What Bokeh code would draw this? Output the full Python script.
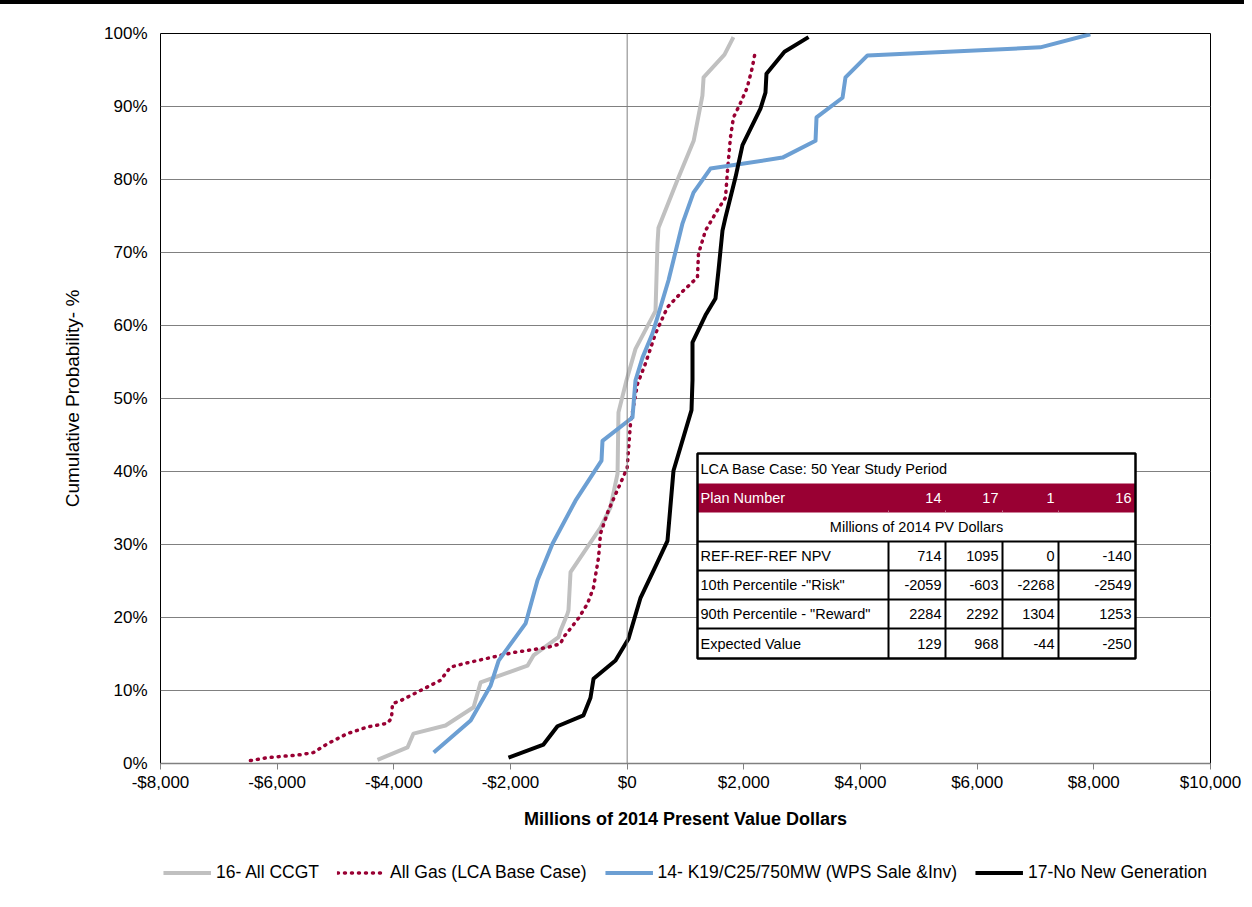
from bokeh.plotting import figure
from bokeh.layouts import column
from bokeh.models import FixedTicker, Span, Legend, LegendItem
from bokeh.core.properties import value
from bokeh.embed import file_html
from bokeh.resources import INLINE

# ---------------- data ----------------
ccgt_x = [-4280, -3766, -3663, -3114, -2633, -2513, -1709, -1606, -1177, -1143, -1023, -1006, -971,
          -457, -286, -165, -149, -11, 143, 486, 520, 537, 860, 1140, 1290, 1310, 1668, 1822]
ccgt_y = [0.5, 2.2, 4.1, 5.2, 7.7, 11.1, 13.4, 14.8, 17.3, 18.2, 20.5, 21.0, 26.2,
          32.3, 35.1, 39.7, 48.1, 52.5, 56.8, 62.0, 71.2, 73.4, 79.9, 85.3, 91.5, 94.0, 97.1, 99.5]

gas_x = [-6458, -6166, -5600, -5378, -5138, -4795, -4452, -4109, -4040, -4023, -3886, -3543, -3200,
         -3029, -2737, -1949, -1366, -1143, -1091, -971, -834, -680, -577, -491, -457, -320, -114, 0,
         57, 177, 314, 486, 691, 914, 1205, 1222, 1342, 1548, 1685, 1720, 1771, 1822, 1938, 2058,
         2144, 2196]
gas_y = [0.4, 0.8, 1.2, 1.5, 2.7, 4.1, 5.0, 5.5, 6.2, 8.2, 8.6, 10.0, 11.4,
         13.2, 13.8, 15.2, 15.9, 16.4, 17.3, 18.5, 19.9, 21.9, 24.1, 28.2, 31.5, 34.7, 38.4, 40.5,
         46.6, 52.0, 54.8, 58.9, 62.5, 64.4, 66.6, 69.8, 73.0, 75.8, 77.5, 81.2, 85.8, 88.5, 90.4, 92.6,
         95.3, 97.5]

k19_x = [-3317, -2683, -2340, -2203, -1740, -1537, -1280, -886, -440, -423, 91, 143, 263, 434, 537,
         709, 949, 1137, 1428, 2663, 3229, 3246, 3692, 3743, 4120, 7083, 7940]
k19_y = [1.5, 5.9, 10.7, 14.1, 19.2, 25.1, 30.1, 36.0, 41.5, 44.2, 47.4, 52.5, 55.6, 58.9, 61.6,
         66.2, 74.0, 78.2, 81.5, 83.0, 85.3, 88.5, 91.2, 94.0, 97.0, 98.1, 99.9]

nonew_x = [-2035, -1435, -1195, -749, -629, -577, -200, 23, 229, 486, 691, 794, 1103, 1120, 1120,
           1342, 1514, 1565, 1634, 1685, 1857, 1977, 2285, 2371, 2388, 2697, 3109]
nonew_y = [0.8, 2.6, 5.1, 6.6, 9.0, 11.6, 14.1, 17.1, 22.7, 27.0, 30.5, 40.1, 48.4, 52.5, 57.7,
           61.4, 63.7, 67.5, 73.0, 74.8, 80.3, 84.7, 89.7, 91.9, 94.5, 97.5, 99.5]

series_names = ["16- All CCGT", "All Gas (LCA Base Case)", "14- K19/C25/750MW (WPS Sale &Inv)",
                "17-No New Generation"]

x_ticks = [-8000, -6000, -4000, -2000, 0, 2000, 4000, 6000, 8000, 10000]
x_tick_labels = ["-$8,000", "-$6,000", "-$4,000", "-$2,000", "$0", "$2,000", "$4,000", "$6,000",
                 "$8,000", "$10,000"]
y_ticks = [0, 10, 20, 30, 40, 50, 60, 70, 80, 90, 100]
y_tick_labels = ["0%", "10%", "20%", "30%", "40%", "50%", "60%", "70%", "80%", "90%", "100%"]

table_title = "LCA Base Case: 50 Year Study Period"
table_header = "Plan Number"
plan_numbers = ["14", "17", "1", "16"]
table_subtitle = "Millions of 2014 PV Dollars"
row_labels = ["REF-REF-REF NPV", "10th Percentile -\"Risk\"", "90th Percentile - \"Reward\"",
              "Expected Value"]
row_values = [["714", "1095", "0", "-140"],
              ["-2059", "-603", "-2268", "-2549"],
              ["2284", "2292", "1304", "1253"],
              ["129", "968", "-44", "-250"]]

# ---------------- styling ----------------
FONT = "Liberation Sans"
GRAY = "#c0c0c0"
CRIMSON = "#990033"
BLUE = "#6c9fd3"
GRID = "#808080"
DOTS = "1 6"

X_MIN, X_MAX = -8000, 10000
W = 1244
TOP_BAR = 4
MAIN_H = 838 - TOP_BAR
LEG_H = 899 - 838
# frame in picture pixels
FL, FR, FT, FB = 160, 1210, 33, 763

p = figure(width=W, height=MAIN_H, x_range=(X_MIN, X_MAX), y_range=(0, 100),
           output_backend="svg", toolbar_location=None,
           min_border_left=FL, min_border_right=W - FR, min_border_top=FT - TOP_BAR,
           min_border_bottom=MAIN_H - (FB - TOP_BAR))
p.background_fill_color = "white"
p.border_fill_color = "white"
p.outline_line_color = "black"
p.outline_line_width = 1

p.xgrid.grid_line_color = None
p.ygrid.ticker = FixedTicker(ticks=y_ticks)
p.ygrid.grid_line_color = GRID
p.ygrid.grid_line_width = 1

p.xaxis.ticker = FixedTicker(ticks=x_ticks)
p.xaxis.major_label_overrides = {t: l for t, l in zip(x_ticks, x_tick_labels)}
p.xaxis.axis_line_color = GRID
p.xaxis.axis_line_width = 1.5
p.xaxis.major_tick_line_color = GRID
p.xaxis.major_tick_in = 0
p.xaxis.major_tick_out = 6
p.xaxis.minor_tick_line_color = None
p.xaxis.major_label_standoff = 3
p.xaxis.major_label_text_font = FONT
p.xaxis.major_label_text_font_size = "17px"
p.xaxis.major_label_text_color = "black"
p.xaxis.axis_label = "Millions of 2014 Present Value Dollars"
p.xaxis.axis_label_text_font = FONT
p.xaxis.axis_label_text_font_size = "18px"
p.xaxis.axis_label_text_font_style = "bold"
p.xaxis.axis_label_text_color = "black"
p.xaxis.axis_label_standoff = 14

p.yaxis.ticker = FixedTicker(ticks=y_ticks)
p.yaxis.major_label_overrides = {t: l for t, l in zip(y_ticks, y_tick_labels)}
p.yaxis.axis_line_color = None
p.yaxis.major_tick_line_color = None
p.yaxis.minor_tick_line_color = None
p.yaxis.major_label_standoff = 7
p.yaxis.major_label_text_font = FONT
p.yaxis.major_label_text_font_size = "17px"
p.yaxis.major_label_text_color = "black"
p.yaxis.axis_label = "Cumulative Probability- %"
p.yaxis.axis_label_text_font = FONT
p.yaxis.axis_label_text_font_size = "19px"
p.yaxis.axis_label_text_font_style = "normal"
p.yaxis.axis_label_text_color = "black"
p.yaxis.axis_label_standoff = 18

p.add_layout(Span(location=0, dimension="height", line_color=GRID, line_width=1))

r1 = p.line(ccgt_x, ccgt_y, line_color=GRAY, line_width=4, line_join="round")
r2 = p.line(gas_x, gas_y, line_color=CRIMSON, line_width=3.5, line_dash=DOTS, line_cap="round")
r3 = p.line(k19_x, k19_y, line_color=BLUE, line_width=4, line_join="round")
r4 = p.line(nonew_x, nonew_y, line_color="black", line_width=4, line_join="round")

# ---------------- table (positioned in picture pixels, mapped to data) ----------------
def dx(px):
    return X_MIN + (px - FL) / (FR - FL) * (X_MAX - X_MIN)

def dy(py):
    return (FB - py) / (FB - FT) * 100.0

t_left, t_right = 697, 1135
rows_px = [453, 483, 512, 541, 570, 599, 628, 658]
cols_px = [888, 945, 1002, 1058]
col_rights = [945, 1002, 1058, 1135]

p.quad(left=[dx(t_left)], right=[dx(t_right)], top=[dy(rows_px[0])], bottom=[dy(rows_px[-1])],
       fill_color="white", line_color=None)
p.quad(left=[dx(t_left)], right=[dx(t_right)], top=[dy(rows_px[1])], bottom=[dy(rows_px[2])],
       fill_color=CRIMSON, line_color=None)
p.segment(x0=[dx(c) for c in cols_px], y0=[dy(rows_px[2] - 2)] * 4,
          x1=[dx(c) for c in cols_px], y1=[dy(rows_px[2])] * 4, line_color="#c07890", line_width=1)
hy = [rows_px[3], rows_px[4], rows_px[5], rows_px[6]]
p.segment(x0=[dx(t_left)] * len(hy), y0=[dy(v) for v in hy], x1=[dx(t_right)] * len(hy),
          y1=[dy(v) for v in hy], line_color="black", line_width=2)
p.segment(x0=[dx(c) for c in cols_px], y0=[dy(rows_px[3])] * 4, x1=[dx(c) for c in cols_px],
          y1=[dy(rows_px[-1])] * 4, line_color="black", line_width=2)
p.quad(left=[dx(t_left)], right=[dx(t_right)], top=[dy(rows_px[0])], bottom=[dy(rows_px[-1])],
       fill_color=None, line_color="black", line_width=2.5)

def row_mid(i):
    return dy((rows_px[i] + rows_px[i + 1]) / 2)

TF = value(FONT)
TS = value("14.5px")
p.text(x=[dx(t_left + 3)], y=[row_mid(0)], text=[table_title], text_font=TF, text_font_size=TS,
       text_baseline="middle", text_align="left", text_color="black")
p.text(x=[dx(t_left + 3)], y=[row_mid(1)], text=[table_header], text_font=TF, text_font_size=TS,
       text_baseline="middle", text_align="left", text_color="white")
p.text(x=[dx(c - 4) for c in col_rights], y=[row_mid(1)] * 4, text=plan_numbers, text_font=TF,
       text_font_size=TS, text_baseline="middle", text_align="right", text_color="white")
p.text(x=[dx((t_left + t_right) / 2)], y=[row_mid(2)], text=[table_subtitle], text_font=TF,
       text_font_size=TS, text_baseline="middle", text_align="center", text_color="black")
for i, (lab, vals) in enumerate(zip(row_labels, row_values)):
    p.text(x=[dx(t_left + 3)], y=[row_mid(3 + i)], text=[lab], text_font=TF, text_font_size=TS,
           text_baseline="middle", text_align="left", text_color="black")
    p.text(x=[dx(c - 4) for c in col_rights], y=[row_mid(3 + i)] * 4, text=vals, text_font=TF,
           text_font_size=TS, text_baseline="middle", text_align="right", text_color="black")

# ---------------- legend (separate strip below the chart) ----------------
q = figure(width=W, height=LEG_H, x_range=(0, 1), y_range=(0, 1), output_backend="svg",
           toolbar_location=None, x_axis_type=None, y_axis_type=None,
           min_border_left=FL, min_border_right=W - FR, min_border_top=7, min_border_bottom=0)
q.outline_line_color = None
q.xgrid.grid_line_color = None
q.ygrid.grid_line_color = None
# legend-only renderers: their data lie outside the strip's visible range
off = [5, 6]
l1 = q.line(off, off, line_color=GRAY, line_width=4)
l2 = q.line(off, off, line_color=CRIMSON, line_width=3.5, line_dash=DOTS, line_cap="round")
l3 = q.line(off, off, line_color=BLUE, line_width=4)
l4 = q.line(off, off, line_color="black", line_width=4)
legend = Legend(items=[LegendItem(label=n, renderers=[r]) for n, r in zip(series_names, [l1, l2, l3, l4])],
                orientation="horizontal", location="center", glyph_width=48, glyph_height=20,
                label_standoff=5, spacing=18, padding=0, margin=0, border_line_color=None,
                background_fill_alpha=0, label_text_font=FONT, label_text_font_size="17.5px",
                label_height=20, label_text_color="black")
q.add_layout(legend)

layout = column(p, q, spacing=0, styles={"border-top": "%dpx solid black" % TOP_BAR})
open("out.html", "w").write(file_html(layout, INLINE))
